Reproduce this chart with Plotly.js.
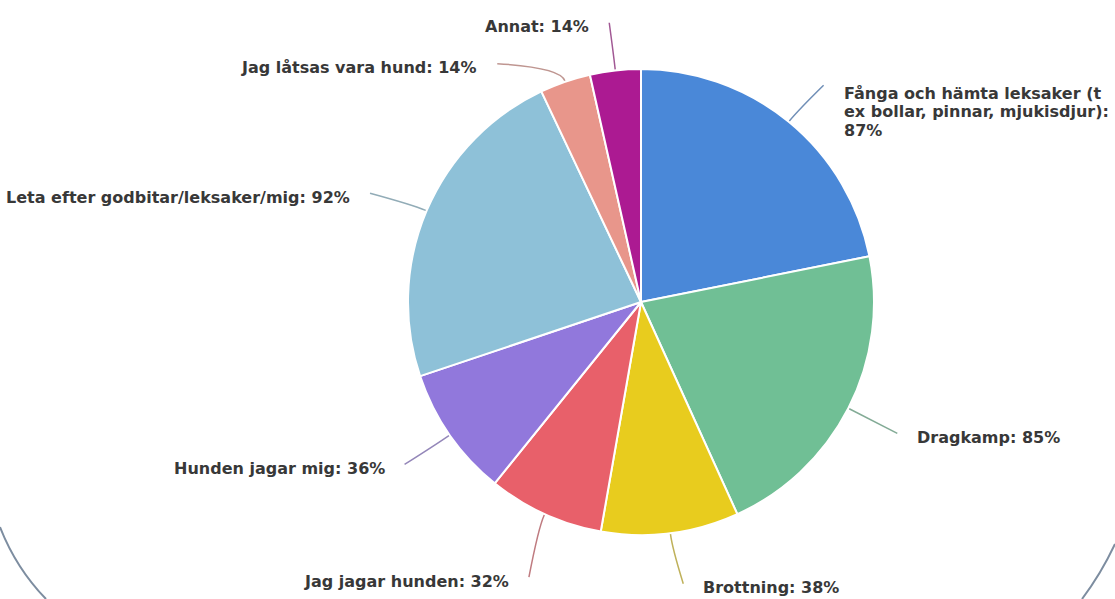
<!DOCTYPE html>
<html>
<head>
<meta charset="utf-8">
<script src="https://cdn.plot.ly/plotly-3.0.1.min.js"></script>
<style>html,body{margin:0;padding:0;background:#fff;}#chart{width:1115px;height:599px;}</style>
</head>
<body>
<div id="chart"></div>
<script>
// ---- data ----
const labels = [
  "Fånga och hämta leksaker (t<br>ex bollar, pinnar, mjukisdjur):<br>87%",
  "Dragkamp: 85%",
  "Brottning: 38%",
  "Jag jagar hunden: 32%",
  "Hunden jagar mig: 36%",
  "Leta efter godbitar/leksaker/mig: 92%",
  "Jag låtsas vara hund: 14%",
  "Annat: 14%"
];
const names = ["Fånga och hämta leksaker (t ex bollar, pinnar, mjukisdjur)", "Dragkamp", "Brottning",
  "Jag jagar hunden", "Hunden jagar mig", "Leta efter godbitar/leksaker/mig", "Jag låtsas vara hund", "Annat"];
const values = [87, 85, 38, 32, 36, 92, 14, 14];
const colors = ["#4a88d8", "#70bf95", "#e8cc1e", "#e8606a", "#9178dc", "#8ec1d8", "#e8968b", "#ac1a92"];
// label placement nudges (pixels) – layout only
const nudges = [[0, 6], [0, 0], [6, -4], [7, 13], [0, -2], [-6, 4], [-50, 34], [0, 7]];

// ---- geometry ----
const W = 1115, H = 599;
const CX = 641, CY = 302, R = 233, REND = 288, GAP = 18;
const px = x => x / W, py = y => 1 - y / H;

const total = values.reduce((a, b) => a + b, 0);
const shapes = [];
const annotations = [];
let cum = 0;
function mix(hex, g, t) {
  const n = parseInt(hex.slice(1), 16);
  const r = (n >> 16) & 255, gg = (n >> 8) & 255, b = n & 255;
  const m = (c) => Math.round(c * (1 - t) + g * t);
  return `rgb(${m(r)},${m(gg)},${m(b)})`;
}
values.forEach((v, i) => {
  const mid = (cum + v / 2) / total * 2 * Math.PI;
  cum += v;
  const sx = Math.sin(mid), cy = -Math.cos(mid);
  const start = [CX + (R + 1) * sx, CY + (R + 1) * cy];
  const end = [CX + REND * sx + nudges[i][0], CY + REND * cy + nudges[i][1]];
  const dist = Math.hypot(end[0] - start[0], end[1] - start[1]);
  const d = Math.min(0.5 * dist, 14);
  const ctrl = [start[0] + d * sx, start[1] + d * cy];
  shapes.push({
    type: "path", xref: "paper", yref: "paper",
    path: `M ${px(start[0])},${py(start[1])} Q ${px(ctrl[0])},${py(ctrl[1])} ${px(end[0])},${py(end[1])}`,
    line: {color: mix(colors[i], 150, 0.5), width: 1.5}
  });
  const right = sx >= 0;
  const lines = labels[i].split("<br>");
  const lh = 18.5;
  const y0 = lines.length > 1 ? end[1] + 8 : end[1] + 4;
  lines.forEach((t, k) => {
    annotations.push({
      xref: "paper", yref: "paper", showarrow: false,
      x: px(end[0] + (right ? GAP : -GAP)), y: py(y0 + k * lh),
      xanchor: right ? "left" : "right", yanchor: "middle",
      text: t, font: {family: "DejaVu Sans", size: 16, color: "#383838", weight: "bold"}
    });
  });
});

// frame corners of a rounded panel
shapes.push({type: "path", xref: "paper", yref: "paper",
  path: `M ${px(0)},${py(527)} Q ${px(16)},${py(568)} ${px(46)},${py(599)}`,
  line: {color: "#7d8da0", width: 2}});
shapes.push({type: "path", xref: "paper", yref: "paper",
  path: `M ${px(1115)},${py(544)} Q ${px(1101)},${py(574)} ${px(1082)},${py(599)}`,
  line: {color: "#7d8da0", width: 2}});

const trace = {
  type: "pie", labels: names, values: values, sort: false, direction: "clockwise", rotation: 0,
  marker: {colors: colors, line: {color: "#ffffff", width: 2}},
  textinfo: "none", hoverinfo: "label+value", showlegend: false,
  domain: {x: [px(CX - R), px(CX + R)], y: [py(CY + R), py(CY - R)]}
};
const layout = {
  width: W, height: H, margin: {l: 0, r: 0, t: 0, b: 0},
  paper_bgcolor: "#ffffff", showlegend: false,
  shapes: shapes, annotations: annotations
};
Plotly.newPlot("chart", [trace], layout, {displayModeBar: false, staticPlot: true});
</script>
</body>
</html>
